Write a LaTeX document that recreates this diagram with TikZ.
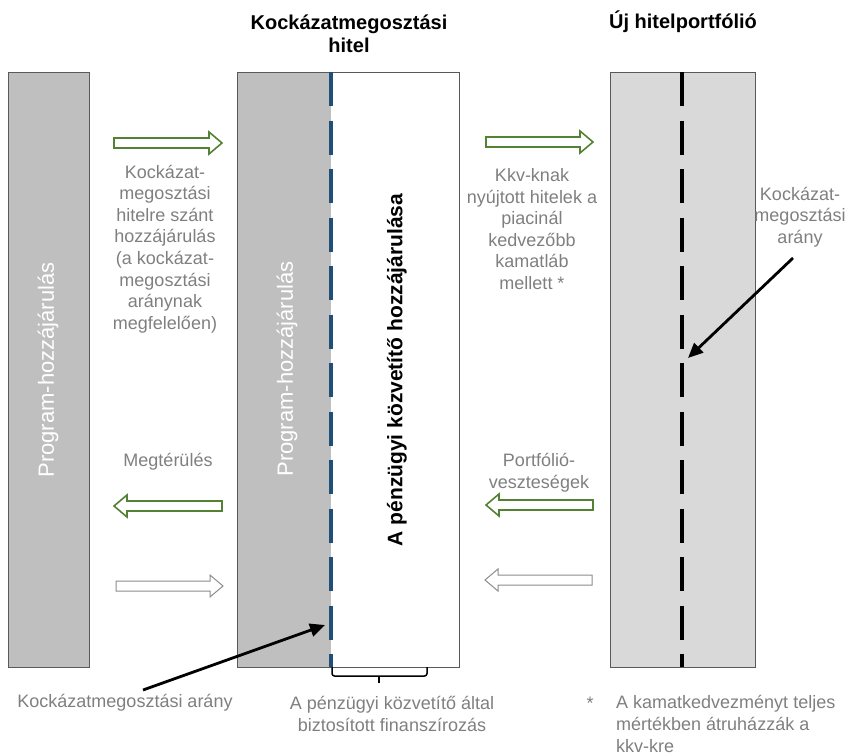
\documentclass[tikz,border=0pt]{standalone}
\usepackage{fontspec}
\setmainfont{Liberation Sans}
\usetikzlibrary{arrows.meta}
\definecolor{barA}{HTML}{BFBFBF}
\definecolor{barB}{HTML}{D9D9D9}
\definecolor{edgeC}{HTML}{595959}
\definecolor{txtC}{HTML}{7F7F7F}
\definecolor{grnC}{HTML}{548235}
\definecolor{bluC}{HTML}{1F4E79}
\definecolor{wArrC}{HTML}{8C8C8C}
\newcommand\blkR[4]{\draw[#4] (#1,#3-5) -- (#2-13,#3-5) -- (#2-13,#3-11) -- (#2,#3) -- (#2-13,#3+11) -- (#2-13,#3+5) -- (#1,#3+5) -- cycle;}
\newcommand\blkL[4]{\draw[#4] (#2,#3-5) -- (#1+13,#3-5) -- (#1+13,#3-11) -- (#1,#3) -- (#1+13,#3+11) -- (#1+13,#3+5) -- (#2,#3+5) -- cycle;}
\begin{document}
\begin{tikzpicture}[x=1pt,y=-1pt,
  bar/.style={draw=edgeC,line width=0.9pt},
  gtxt/.style={text=txtC,align=center,font=\fontsize{18}{21.6}\selectfont,inner sep=0pt},
  head/.style={text=black,align=center,font=\fontsize{20}{23.5}\selectfont\bfseries,inner sep=0pt},
  rottxt/.style={text=white,rotate=90,font=\fontsize{22}{26}\selectfont,inner sep=0pt},
  garrow/.style={draw=grnC,line width=1.6pt,fill=white,line join=miter},
  warrow/.style={draw=wArrC,line width=1pt,fill=white},
  ratio/.style={line width=3.6pt,dash pattern=on 34pt off 14.5pt},
  pointer/.style={line width=2.8pt,-{Triangle[length=15pt,width=13pt]}}]
\useasboundingbox (0,0) rectangle (854,755);
% bars
\path[fill=barA,bar] (8,72) rectangle (89,667);
\path[fill=barA] (237,72) rectangle (331,667);
\path[fill=white] (331,72) rectangle (459,667);
\draw[bar] (237,72) rectangle (459,667);
\path[fill=barB,bar] (610,72) rectangle (755,667);
% dashed ratio lines
\draw[ratio,draw=bluC] (331,72) -- (331,667);
\draw[ratio,draw=black] (682,72) -- (682,667);
% headings
\node[head] (h1) at (349,34) {Kockázatmegosztási\\hitel};
\node[head] (h2) at (683,22) {Új hitelportfólió};
% rotated texts
\node[rottxt] (p1) at (48,370) {Program-hozzájárulás};
\node[rottxt] (p2) at (287,369) {Program-hozzájárulás};
\node[rotate=90,font=\fontsize{21}{25}\selectfont\bfseries,inner sep=0pt] (fi) at (397,370) {A pénzügyi közvetítő hozzájárulása};
% block arrows
\blkR{114}{222}{143}{garrow}
\blkR{486}{593}{142}{garrow}
\blkL{114}{222}{506}{garrow}
\blkL{486}{593}{505}{garrow}
\blkR{116}{223}{586}{warrow}
\blkL{485}{592}{580}{warrow}
% grey labels
\node[gtxt] (t1) at (165,249) {Kockázat-\\megosztási\\hitelre szánt\\hozzájárulás\\(a kockázat-\\megosztási\\aránynak\\megfelelően)};
\node[gtxt] (t2) at (532,229) {Kkv-knak\\nyújtott hitelek a\\piacinál\\kedvezőbb\\kamatláb\\mellett *};
\node[gtxt] (t3) at (800,217) {Kockázat-\\megosztási\\arány};
\node[gtxt] (t4) at (168,462) {Megtérülés};
\node[gtxt] (t5) at (539,473) {Portfólió-\\veszteségek};
\node[gtxt] (b1) at (125,703) {Kockázatmegosztási arány};
\node[gtxt] (b2) at (392,714) {A pénzügyi közvetítő által\\biztosított finanszírozás};
\node[gtxt] (b3) at (590,703) {*};
\node[gtxt,align=left,anchor=west] (b4) at (616,724) {A kamatkedvezményt teljes\\mértékben átruházzák a\\kkv-kre};
% pointers
\coordinate (r1s) at (793,258);
\coordinate (r1e) at (688,358);
\coordinate (r2s) at (143,690);
\coordinate (r2e) at (325,625);
\draw[pointer] (r1s) -- (r1e);
\draw[pointer] (r2s) -- (r2e);
% brace
\coordinate (brL) at (332,667);
\coordinate (brR) at (427,667);
\coordinate (brT) at (379,683);
\draw[line width=1.5pt,rounded corners=2.5pt] (brL) -- (332,676) -- (427,676) -- (brR);
\draw[line width=1.5pt] (379,676) -- (brT);
\end{tikzpicture}
\end{document}
